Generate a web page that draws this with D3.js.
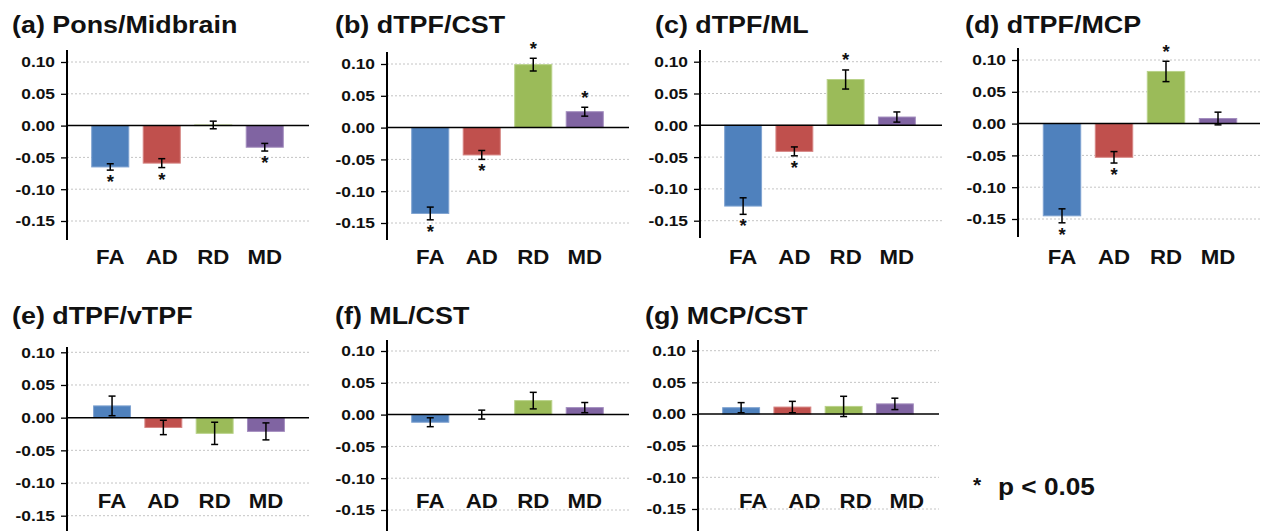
<!DOCTYPE html>
<html>
<head>
<meta charset="utf-8">
<script src="https://cdn.jsdelivr.net/npm/d3@7"></script>
<style>
  html, body { margin: 0; padding: 0; background: #ffffff; }
  svg { display: block; }
  text { font-family: "Liberation Sans", Arial, Helvetica, sans-serif; font-weight: bold; fill: #111; }
</style>
</head>
<body>
<svg id="chart" width="1264" height="531"></svg>
<script>
// ---------------- DATA ----------------
const categories = ["FA", "AD", "RD", "MD"];
const panelTitles = ["(a) Pons/Midbrain", "(b) dTPF/CST", "(c) dTPF/ML", "(d) dTPF/MCP",
                     "(e) dTPF/vTPF", "(f) ML/CST", "(g) MCP/CST"];
const yTicks = [0.10, 0.05, 0.00, -0.05, -0.10, -0.15];
const yTickLabels = ["0.10", "0.05", "0.00", "-0.05", "-0.10", "-0.15"];

const valuesA = [-0.065, -0.059, 0.001, -0.034];
const errorsA = [0.005, 0.007, 0.006, 0.006];
const signifA = [true, true, false, true];

const valuesB = [-0.135, -0.043, 0.099, 0.025];
const errorsB = [0.010, 0.007, 0.010, 0.007];
const signifB = [true, true, true, true];

const valuesC = [-0.127, -0.041, 0.072, 0.013];
const errorsC = [0.013, 0.007, 0.015, 0.008];
const signifC = [true, true, true, false];

const valuesD = [-0.145, -0.053, 0.082, 0.008];
const errorsD = [0.011, 0.009, 0.016, 0.010];
const signifD = [true, true, true, false];

const valuesE = [0.018, -0.015, -0.024, -0.021];
const errorsE = [0.015, 0.011, 0.017, 0.013];
const signifE = [false, false, false, false];

const valuesF = [-0.012, 0.000, 0.022, 0.011];
const errorsF = [0.007, 0.007, 0.013, 0.008];
const signifF = [false, false, false, false];

const valuesG = [0.010, 0.011, 0.012, 0.016];
const errorsG = [0.008, 0.009, 0.016, 0.009];
const signifG = [false, false, false, false];

const legendStar = "*";
const legendText = "p < 0.05";

// ---------------- STYLE / LAYOUT ----------------
const colors = ["#4F81BD", "#C0504D", "#9BBB59", "#8064A2"];
const edgeColors = ["#7fa3d1", "#d68684", "#b9d289", "#a48ebf"];

const layouts = [
  {tx: 12,  ty: 33,  ax: 67,   yTop: 62,    yBot: 221,   axTop: 50,  axBot: 240, x0: 84.5,  x1: 290.5,  gx: 309,  ly: 264, lo: 0},
  {tx: 335, ty: 33,  ax: 387,  yTop: 64,    yBot: 223,   axTop: 52,  axBot: 240, x0: 404.5, x1: 610.5,  gx: 629,  ly: 264, lo: 0},
  {tx: 655, ty: 33,  ax: 700,  yTop: 61.7,  yBot: 220.7, axTop: 50,  axBot: 238, x0: 717.5, x1: 922.5,  gx: 942,  ly: 264, lo: 0},
  {tx: 965, ty: 33,  ax: 1018, yTop: 60,    yBot: 219,   axTop: 48,  axBot: 237, x0: 1036,  x1: 1244,   gx: 1260, ly: 264, lo: 0},
  {tx: 12,  ty: 324, ax: 67,   yTop: 352.3, yBot: 515.7, axTop: 347, axBot: 531, x0: 86.4,  x1: 291.6,  gx: 309,  ly: 508, lo: 0},
  {tx: 335, ty: 324, ax: 387,  yTop: 351,   yBot: 510,   axTop: 340, axBot: 531, x0: 404.5, x1: 610.5,  gx: 629,  ly: 508, lo: 0},
  {tx: 645, ty: 324, ax: 698,  yTop: 350.7, yBot: 509,   axTop: 340, axBot: 531, x0: 715.5, x1: 920.5,  gx: 939,  ly: 508, lo: 12}
];

const panelData = [
  [valuesA, errorsA, signifA],
  [valuesB, errorsB, signifB],
  [valuesC, errorsC, signifC],
  [valuesD, errorsD, signifD],
  [valuesE, errorsE, signifE],
  [valuesF, errorsF, signifF],
  [valuesG, errorsG, signifG]
];

const svg = d3.select("#chart");

panelData.forEach(([vals, errs, sig], p) => {
  const L = layouts[p];
  const g = svg.append("g");
  const rows = categories.map((c, i) => ({c: c, v: vals[i], e: errs[i], s: sig[i], i: i}));

  const y = d3.scaleLinear().domain([0.10, -0.15]).range([L.yTop, L.yBot]);
  const x = d3.scaleBand().domain(categories).range([L.x0, L.x1])
              .paddingInner(0.28).paddingOuter(0.14);
  const cx = c => x(c) + x.bandwidth() / 2;

  // title
  g.append("text")
    .attr("transform", `translate(${L.tx},${L.ty}) scale(1.12,1)`)
    .attr("font-size", 24)
    .text(panelTitles[p]);

  // grid lines
  g.selectAll("line.grid").data(yTicks.filter(t => t !== 0)).enter().append("line")
    .attr("class", "grid")
    .attr("x1", L.ax).attr("x2", L.gx)
    .attr("y1", d => y(d)).attr("y2", d => y(d))
    .attr("stroke", "#c4c4c4").attr("stroke-width", 1)
    .attr("stroke-dasharray", "2,2");

  // bars
  g.selectAll("rect.bar").data(rows).enter().append("rect")
    .attr("class", "bar")
    .attr("x", d => x(d.c))
    .attr("width", x.bandwidth())
    .attr("y", d => Math.min(y(d.v), y(0)))
    .attr("height", d => Math.abs(y(d.v) - y(0)))
    .attr("fill", d => colors[d.i])
    .attr("stroke", d => edgeColors[d.i])
    .attr("stroke-width", 1);

  // zero line
  g.append("line")
    .attr("x1", L.ax).attr("x2", L.gx)
    .attr("y1", y(0)).attr("y2", y(0))
    .attr("stroke", "#000").attr("stroke-width", 1.5);

  // y axis
  const axis = d3.axisLeft(y).tickValues(yTicks)
    .tickFormat((d, i) => yTickLabels[i]).tickSize(6).tickPadding(9);
  const ag = g.append("g").attr("transform", `translate(${L.ax},0)`).call(axis);
  ag.select(".domain").remove();
  ag.selectAll(".tick line").attr("stroke", "#000").attr("stroke-width", 1.3);
  ag.selectAll(".tick text")
    .attr("font-size", 15.5)
    .attr("font-family", "'Liberation Sans', Arial, sans-serif")
    .attr("font-weight", "bold")
    .attr("fill", "#111")
    .attr("transform", "scale(1.12,1)")
    .attr("x", -12 / 1.12);
  ag.append("line")
    .attr("x1", 0).attr("x2", 0)
    .attr("y1", L.axTop).attr("y2", L.axBot)
    .attr("stroke", "#000").attr("stroke-width", 2);

  // error bars
  const eb = g.selectAll("g.err").data(rows).enter().append("g").attr("class", "err");
  eb.append("line")
    .attr("x1", d => cx(d.c)).attr("x2", d => cx(d.c))
    .attr("y1", d => y(d.v - d.e)).attr("y2", d => y(d.v + d.e))
    .attr("stroke", "#000").attr("stroke-width", 1.5);
  [-1, 1].forEach(s => {
    eb.append("line")
      .attr("x1", d => cx(d.c) - 3.5).attr("x2", d => cx(d.c) + 3.5)
      .attr("y1", d => y(d.v + s * d.e)).attr("y2", d => y(d.v + s * d.e))
      .attr("stroke", "#000").attr("stroke-width", 1.5);
  });

  // significance stars
  g.selectAll("text.star").data(rows.filter(d => d.s)).enter()
    .append("text")
    .attr("class", "star")
    .attr("text-anchor", "middle")
    .attr("font-size", 18.5)
    .attr("x", d => cx(d.c))
    .attr("y", d => d.v < 0 ? y(d.v - d.e) + 18 : y(d.v + d.e) - 3.7)
    .text("*");

  // category labels
  g.selectAll("text.cat").data(categories).enter().append("text")
    .attr("class", "cat")
    .attr("text-anchor", "middle")
    .attr("font-size", 21)
    .attr("transform", d => `translate(${cx(d) + L.lo},${L.ly}) scale(1.06,1)`)
    .text(d => d);
});

// legend
svg.append("text")
  .attr("x", 977).attr("y", 492)
  .attr("text-anchor", "middle")
  .attr("font-size", 21)
  .text(legendStar);
svg.append("text")
  .attr("transform", "translate(998,495) scale(1.14,1)")
  .attr("font-size", 23)
  .text(legendText);
</script>
</body>
</html>
